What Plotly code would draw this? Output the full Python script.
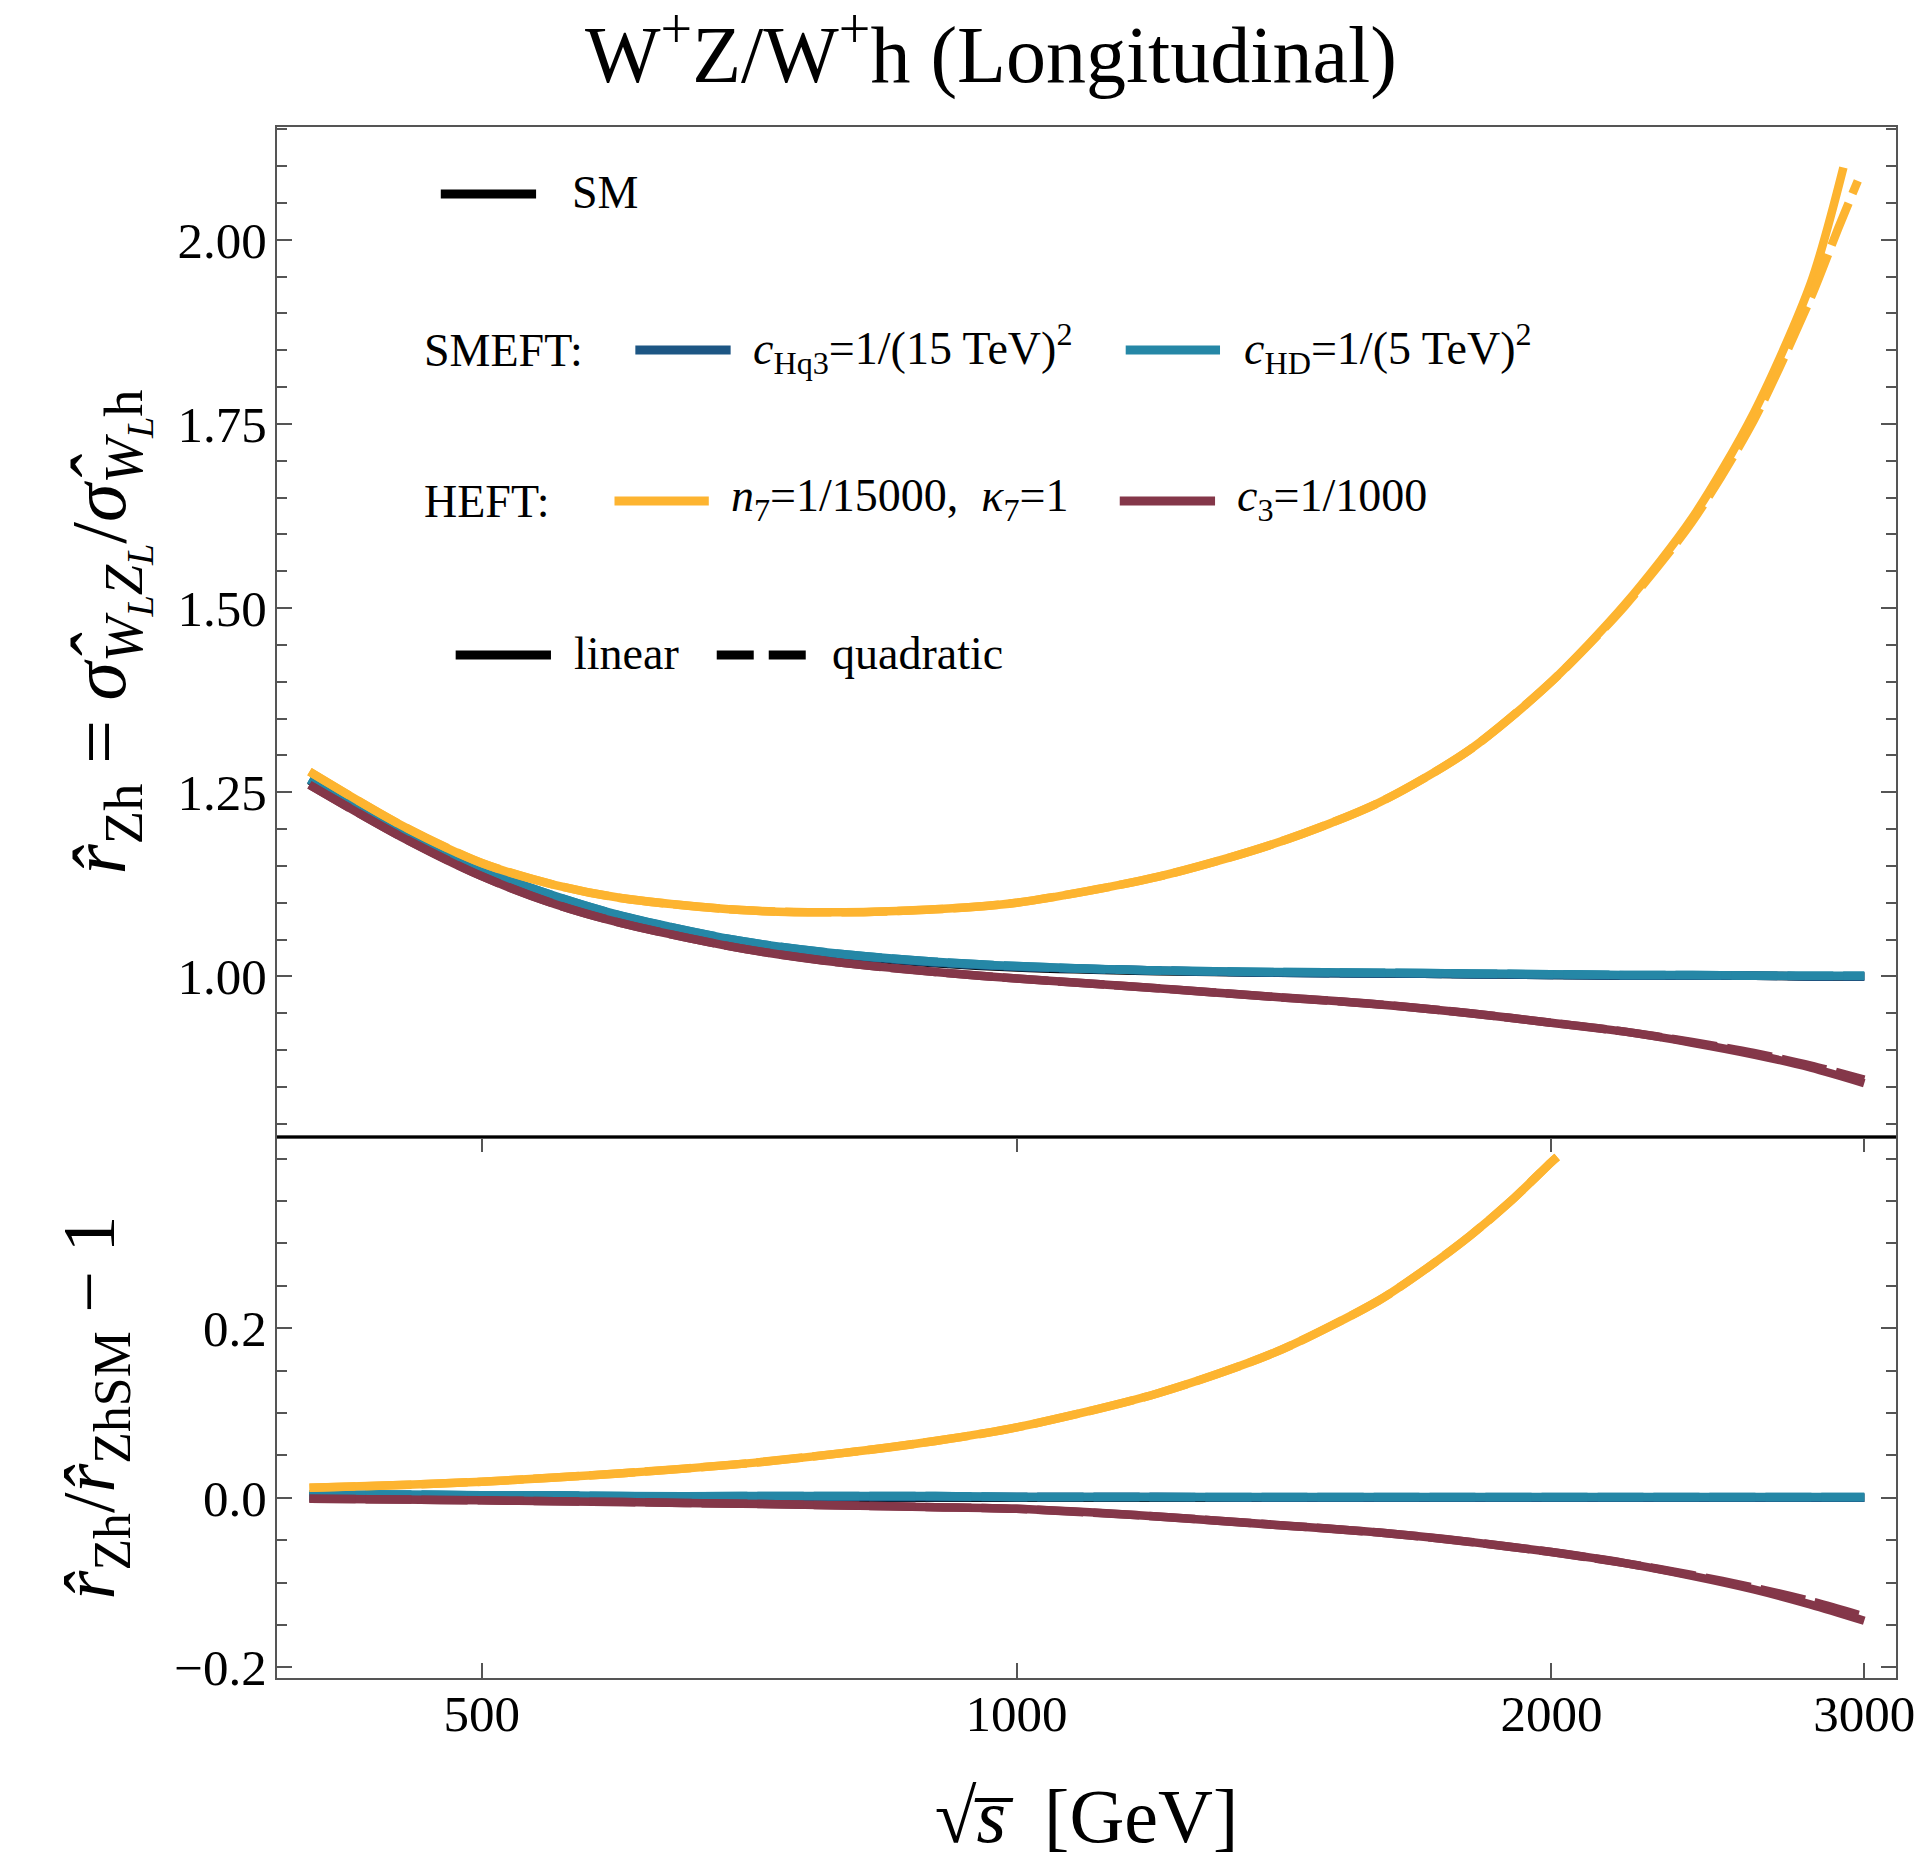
import plotly.graph_objects as go
import math

# ---------------- data ----------------
sqrt_s = [400, 450, 500, 550, 600, 700, 800, 900, 1000, 1200, 1400, 1600, 1800, 2000,
          2200, 2400, 2600, 2800, 3000]

# upper panel: r_Zh
r_sm       = [1.266, 1.196, 1.143, 1.107, 1.080, 1.046, 1.028, 1.018, 1.012, 1.007, 1.005,
              1.004, 1.003, 1.002, 1.001, 1.001, 1.001, 1.000, 1.000]
r_hq3_lin  = [1.267, 1.197, 1.144, 1.108, 1.081, 1.047, 1.029, 1.019, 1.013, 1.008, 1.005,
              1.004, 1.003, 1.002, 1.001, 1.001, 1.001, 1.000, 1.000]
r_hq3_quad = [1.267, 1.197, 1.144, 1.108, 1.081, 1.047, 1.029, 1.019, 1.013, 1.008, 1.005,
              1.004, 1.003, 1.002, 1.001, 1.001, 1.001, 1.000, 1.000]
r_hd_lin   = [1.268, 1.198, 1.145, 1.109, 1.082, 1.048, 1.030, 1.020, 1.014, 1.008, 1.006,
              1.005, 1.004, 1.003, 1.002, 1.002, 1.001, 1.001, 1.001]
r_hd_quad  = [1.268, 1.198, 1.145, 1.109, 1.082, 1.048, 1.030, 1.020, 1.014, 1.008, 1.006,
              1.005, 1.004, 1.003, 1.002, 1.002, 1.001, 1.001, 1.001]
r_c3_lin   = [1.260, 1.190, 1.136, 1.098, 1.072, 1.038, 1.018, 1.006, 0.997, 0.984, 0.972,
              0.962, 0.950, 0.937, 0.925, 0.910, 0.894, 0.876, 0.855]
r_c3_quad  = [1.260, 1.190, 1.136, 1.098, 1.072, 1.038, 1.018, 1.006, 0.997, 0.984, 0.972,
              0.962, 0.950, 0.937, 0.925, 0.911, 0.896, 0.879, 0.860]

sqrt_s_n7_lin = [400, 450, 500, 550, 600, 700, 800, 900, 1000, 1200, 1400, 1600, 1800,
                 2000, 2200, 2400, 2600, 2800, 2920]
r_n7_lin      = [1.278, 1.206, 1.154, 1.124, 1.106, 1.090, 1.087, 1.091, 1.100, 1.135, 1.181,
                 1.236, 1.308, 1.400, 1.505, 1.622, 1.765, 1.942, 2.098]
sqrt_s_n7_quad = [400, 450, 500, 550, 600, 700, 800, 900, 1000, 1200, 1400, 1600, 1800,
                  2000, 2200, 2400, 2600, 2800, 2900, 2975]
r_n7_quad      = [1.278, 1.206, 1.154, 1.124, 1.106, 1.090, 1.087, 1.091, 1.100, 1.135, 1.181,
                  1.236, 1.308, 1.400, 1.503, 1.617, 1.755, 1.922, 2.015, 2.080]

# lower panel: r_Zh / r_Zh,SM - 1
d_sm       = [0, 0, 0, 0, 0, 0, 0, 0, 0, 0, 0, 0, 0, 0, 0, 0, 0, 0, 0]
d_hq3_lin  = [0.002, 0.002, 0.002, 0.001, 0.001, 0.001, 0.001, 0.001, 0.001, 0.001, 0.000,
              0.000, 0.000, 0.000, 0.000, 0.000, 0.000, 0.000, 0.000]
d_hq3_quad = [0.002, 0.002, 0.002, 0.001, 0.001, 0.001, 0.001, 0.001, 0.001, 0.001, 0.000,
              0.000, 0.000, 0.000, 0.000, 0.000, 0.000, 0.000, 0.000]
d_hd_lin   = [0.004, 0.004, 0.003, 0.003, 0.002, 0.002, 0.002, 0.002, 0.001, 0.001, 0.001,
              0.001, 0.001, 0.001, 0.001, 0.001, 0.001, 0.001, 0.001]
d_hd_quad  = [0.004, 0.004, 0.003, 0.003, 0.002, 0.002, 0.002, 0.002, 0.001, 0.001, 0.001,
              0.001, 0.001, 0.001, 0.001, 0.001, 0.001, 0.001, 0.001]
d_c3_lin   = [-0.001, -0.002, -0.003, -0.004, -0.005, -0.007, -0.009, -0.011, -0.013, -0.022,
              -0.032, -0.041, -0.052, -0.064, -0.077, -0.092, -0.108, -0.126, -0.145]
d_c3_quad  = [-0.001, -0.002, -0.003, -0.004, -0.005, -0.007, -0.009, -0.011, -0.013, -0.022,
              -0.032, -0.041, -0.052, -0.064, -0.077, -0.091, -0.106, -0.122, -0.140]

sqrt_s_n7_d = [400, 450, 500, 550, 600, 700, 800, 900, 1000, 1200, 1400, 1600, 1700, 1800,
               1900, 2000, 2015]
d_n7_lin    = [0.012, 0.015, 0.019, 0.024, 0.029, 0.040, 0.053, 0.067, 0.083, 0.123, 0.172,
               0.233, 0.270, 0.309, 0.351, 0.396, 0.402]
d_n7_quad   = [0.012, 0.015, 0.019, 0.024, 0.029, 0.040, 0.053, 0.067, 0.083, 0.123, 0.172,
               0.233, 0.270, 0.309, 0.351, 0.396, 0.402]

x_tickvals = [500, 1000, 2000, 3000]
x_ticktext = ["500", "1000", "2000", "3000"]
y1_tickvals = [1.00, 1.25, 1.50, 1.75, 2.00]
y1_ticktext = ["1.00", "1.25", "1.50", "1.75", "2.00"]
y2_tickvals = [-0.2, 0.0, 0.2]
y2_ticktext = ["\u22120.2", "0.0", "0.2"]

# ---------------- style ----------------
C_SM = "#000000"
C_HQ3 = "#1d5684"
C_HD = "#2587a6"
C_N7 = "#fdb430"
C_C3 = "#843749"
LW = 8.5
DASH = "46px,10px"
FONT = "Liberation Serif"
FRAME = "#555555"

W, H = 1927, 1861
L, R, T, SPLIT, B = 277, 1908, 127, 1137, 1678

fig = go.Figure()

def add(x, y, color, dash, row):
    xa = "x" if row == 1 else "x2"
    ya = "y" if row == 1 else "y2"
    fig.add_trace(go.Scatter(x=x, y=y, mode="lines", xaxis=xa, yaxis=ya, showlegend=False,
                             line=dict(color=color, width=LW, dash=dash, shape="spline",
                                       smoothing=0.8),
                             hoverinfo="skip"))

# upper panel
add(sqrt_s, r_sm, C_SM, "solid", 1)
add(sqrt_s, r_hq3_lin, C_HQ3, "solid", 1)
add(sqrt_s, r_hq3_quad, C_HQ3, DASH, 1)
add(sqrt_s, r_hd_lin, C_HD, "solid", 1)
add(sqrt_s, r_hd_quad, C_HD, DASH, 1)
add(sqrt_s, r_c3_lin, C_C3, "solid", 1)
add(sqrt_s, r_c3_quad, C_C3, DASH, 1)
add(sqrt_s_n7_lin, r_n7_lin, C_N7, "solid", 1)
add(sqrt_s_n7_quad, r_n7_quad, C_N7, DASH, 1)
# lower panel
add(sqrt_s, d_sm, C_SM, "solid", 2)
add(sqrt_s, d_hq3_lin, C_HQ3, "solid", 2)
add(sqrt_s, d_hq3_quad, C_HQ3, DASH, 2)
add(sqrt_s, d_hd_lin, C_HD, "solid", 2)
add(sqrt_s, d_hd_quad, C_HD, DASH, 2)
add(sqrt_s, d_c3_lin, C_C3, "solid", 2)
add(sqrt_s, d_c3_quad, C_C3, DASH, 2)
add(sqrt_s_n7_d, d_n7_lin, C_N7, "solid", 2)
add(sqrt_s_n7_d, d_n7_quad, C_N7, DASH, 2)

xrange = [math.log10(383.5), math.log10(3126)]
split_frac = (B - SPLIT) / (B - T)
tickfont = dict(family=FONT, size=51, color="black")

common_y = dict(showgrid=False, zeroline=False, showline=True, linecolor=FRAME, linewidth=2,
                mirror="ticks", ticks="inside", ticklen=15, tickwidth=2, tickcolor=FRAME,
                tickfont=tickfont, ticklabelstandoff=-2)

fig.update_layout(
    width=W, height=H,
    margin=dict(l=L, r=W - R, t=T, b=H - B),
    paper_bgcolor="white", plot_bgcolor="white",
    font=dict(family=FONT, color="black"),
    title=dict(text="W<sup>+</sup>Z/W<sup>+</sup>h (Longitudinal)",
               font=dict(family=FONT, size=80, color="black"),
               x=991 / W, xanchor="center", xref="container",
               y=1 - 54 / H, yanchor="middle", yref="container"),
    xaxis=dict(type="log", range=xrange, matches="x2", anchor="y", showticklabels=False,
               ticks="", showgrid=False, zeroline=False, showline=True, mirror=True,
               linecolor=FRAME, linewidth=2),
    xaxis2=dict(type="log", range=xrange, anchor="y2", tickvals=x_tickvals, ticktext=x_ticktext,
                ticks="inside", ticklen=15, tickwidth=2, tickcolor=FRAME, tickfont=tickfont,
                showgrid=False, zeroline=False, showline=True, mirror="ticks",
                linecolor=FRAME, linewidth=2, ticklabelstandoff=-10, ticklabeloverflow="allow",
                title=dict(text="\u221a<i>s\u0305</i>  [GeV]", font=dict(family=FONT, size=76, color="black"),
                           standoff=48)),
    yaxis=dict(domain=[split_frac, 1], anchor="x", range=[0.782, 2.153],
               tickvals=y1_tickvals, ticktext=y1_ticktext,
               minor=dict(tickvals=[round(0.80 + 0.05 * i, 2) for i in range(28)],
                          ticks="inside", ticklen=10, tickwidth=1.5, tickcolor=FRAME),
               title=dict(text="<i>r\u0302</i><sub>Zh</sub> = <i>\u03c3\u0302</i><sub><i>W<sub>L</sub>Z<sub>L</sub></i></sub>/<i>\u03c3\u0302</i><sub><i>W<sub>L</sub></i>h</sub>",
                          font=dict(family=FONT, size=78, color="black"), standoff=26),
               **common_y),
    yaxis2=dict(domain=[0, split_frac], anchor="x2", range=[-0.2125, 0.4255],
                tickvals=y2_tickvals, ticktext=y2_ticktext,
                minor=dict(tickvals=[round(-0.20 + 0.05 * i, 2) for i in range(13)],
                           ticks="inside", ticklen=10, tickwidth=1.5, tickcolor=FRAME),
                title=dict(text="<i>r\u0302</i><sub>Zh</sub>/<i>r\u0302</i><sub>ZhSM</sub> \u2212 1",
                           font=dict(family=FONT, size=74, color="black"), standoff=35),
                **common_y),
)

# separator between the panels
fig.add_shape(type="line", xref="paper", yref="paper", x0=0, x1=1, y0=split_frac, y1=split_frac,
              line=dict(color="black", width=2))

# ---------------- custom legend ----------------
def px(xp):
    return (xp - L) / (R - L)

def py(yp):
    return (B - yp) / (B - T)

LEG_FONT = dict(family=FONT, size=46, color="black")

def leg_line(x0, x1, y, color, dash="solid"):
    fig.add_shape(type="line", xref="paper", yref="paper", x0=px(x0), x1=px(x1), y0=py(y), y1=py(y),
                  line=dict(color=color, width=9, dash=dash))

def leg_text(x, y, text):
    fig.add_annotation(xref="paper", yref="paper", x=px(x), y=py(y), text=text, showarrow=False,
                       xanchor="left", yanchor="middle", font=LEG_FONT)

leg_line(442, 538, 194, C_SM)
leg_text(572, 192, "SM")

leg_text(423, 350, "SMEFT:")
leg_line(638, 734, 350, C_HQ3)
leg_text(755, 348, "<i>c</i><sub>Hq3</sub>=1/(15 TeV)<sup>2</sup>")
leg_line(1132, 1227, 350, C_HD)
leg_text(1249, 348, "<i>c</i><sub>HD</sub>=1/(5 TeV)<sup>2</sup>")

leg_text(423, 501, "HEFT:")
leg_line(617, 712, 501, C_N7)
leg_text(732, 499, "<i>n</i><sub>7</sub>=1/15000,  <i>\u03ba</i><sub>7</sub>=1")
leg_line(1126, 1222, 501, C_C3)
leg_text(1242, 499, "<i>c</i><sub>3</sub>=1/1000")

leg_line(457, 553, 655, "black")
leg_text(574, 653, "linear")
leg_line(720, 811, 655, "black", dash="37px,15px")
leg_text(834, 653, "quadratic")

fig.write_html("out.html")
